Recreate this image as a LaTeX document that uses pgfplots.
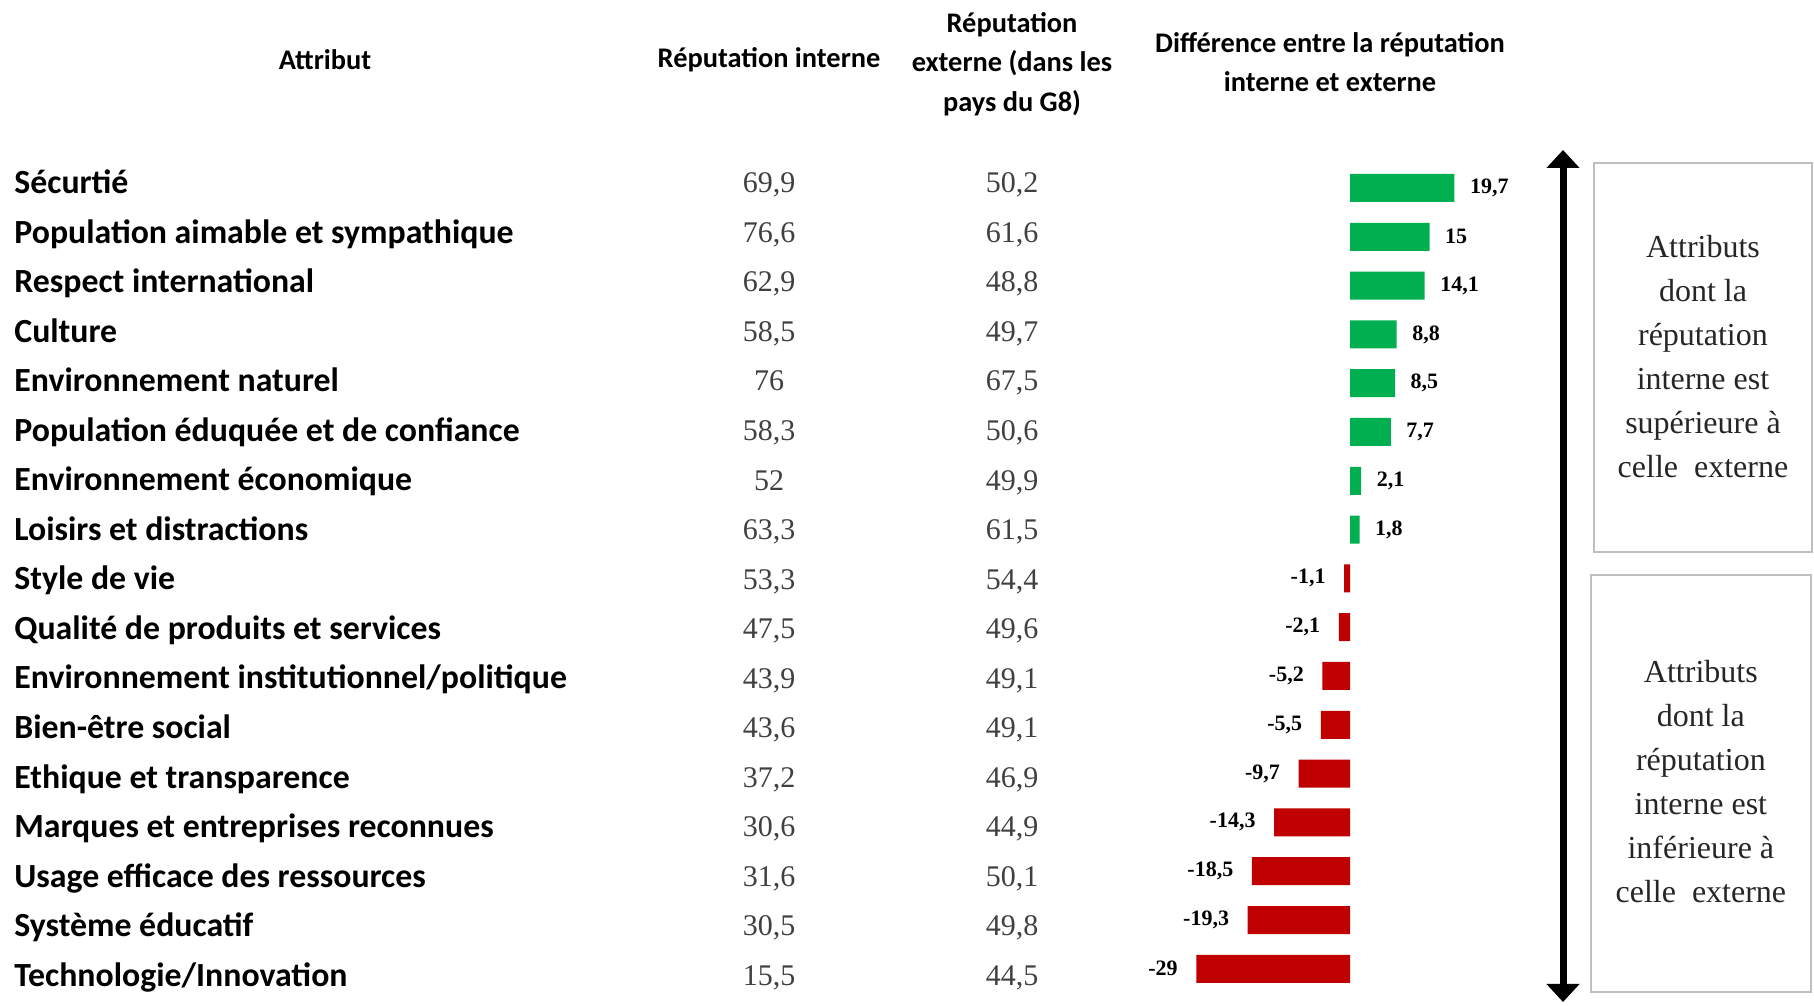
\documentclass[border=0pt]{standalone}
\usepackage{pgfplots}
\pgfplotsset{compat=1.18}
\usepackage{pgfplotstable}
\usetikzlibrary{arrows.meta}
\usepackage{fontspec}
\setmainfont{Liberation Serif}
\newfontfamily\calib{Carlito}
\definecolor{posgreen}{HTML}{00B050}
\definecolor{negred}{HTML}{C00000}
\definecolor{numgray}{HTML}{404040}

\pgfplotstableread[col sep=semicolon]{
row;label;int;ext;diff
0;Sécurtié;69.9;50.2;19.7
1;Population aimable et sympathique;76.6;61.6;15
2;Respect international;62.9;48.8;14.1
3;Culture;58.5;49.7;8.8
4;Environnement naturel;76;67.5;8.5
5;Population éduquée et de confiance;58.3;50.6;7.7
6;Environnement économique;52;49.9;2.1
7;Loisirs et distractions;63.3;61.5;1.8
8;Style de vie;53.3;54.4;-1.1
9;Qualité de produits et services;47.5;49.6;-2.1
10;Environnement institutionnel/politique;43.9;49.1;-5.2
11;Bien-être social;43.6;49.1;-5.5
12;Ethique et transparence;37.2;46.9;-9.7
13;Marques et entreprises reconnues;30.6;44.9;-14.3
14;Usage efficace des ressources;31.6;50.1;-18.5
15;Système éducatif;30.5;49.8;-19.3
16;Technologie/Innovation;15.5;44.5;-29
}\datatable

\begin{document}
\begin{tikzpicture}
\begin{axis}[
  scale only axis, width=907pt, height=502.5pt,
  xmin=-254.72, xmax=87.55, ymin=-3.852, ymax=16.742, y dir=reverse,
  hide axis, clip=false,
  /pgf/number format/use comma,
  /pgf/number format/assume math mode=true,
]
\path (rel axis cs:0,0) rectangle (rel axis cs:1,1);

% bars
\addplot[xbar, bar width=14pt, bar shift=0pt, fill=posgreen, draw=none,
  restrict x to domain=0:100,
  nodes near coords, point meta=x,
  nodes near coords style={anchor=west, xshift=4.3pt, text=black, font=\bfseries\fontsize{11}{12}\selectfont}]
  table[x=diff, y=row]{\datatable};
\addplot[xbar, bar width=14pt, bar shift=0pt, fill=negred, draw=none,
  restrict x to domain=-100:0,
  nodes near coords, point meta=x,
  nodes near coords style={anchor=east, xshift=-5.8pt, text=black, font=\bfseries\fontsize{11}{12}\selectfont}]
  table[x=diff, y=row]{\datatable};

% attribute labels
\addplot[draw=none, mark=none, nodes near coords, point meta=explicit symbolic,
  nodes near coords style={anchor=base west, inner sep=0pt, yshift=-5.4pt, text=black, font=\calib\bfseries\fontsize{16.9}{18}\selectfont}]
  table[x expr=-252.08, y expr=\thisrow{row}*1.01516-0.1066, meta=label]{\datatable};

% internal reputation
\addplot[draw=none, mark=none, nodes near coords, point meta=explicit,
  nodes near coords style={anchor=base, inner sep=0pt, yshift=-5pt, text=numgray, font=\fontsize{15}{16}\selectfont}]
  table[x expr=-109.62, y expr=\thisrow{row}*1.01516-0.1066, meta=int]{\datatable};

% external reputation
\addplot[draw=none, mark=none, nodes near coords, point meta=explicit,
  nodes near coords style={anchor=base, inner sep=0pt, yshift=-5pt, text=numgray, font=\fontsize{15}{16}\selectfont}]
  table[x expr=-63.77, y expr=\thisrow{row}*1.01516-0.1066, meta=ext]{\datatable};

% headers
\node[font=\calib\bfseries\fontsize{14.2}{19.7}\selectfont, align=center] at (axis cs:-193.4,-2.623) {Attribut};
\node[font=\calib\bfseries\fontsize{14.2}{19.7}\selectfont, align=center] at (axis cs:-109.62,-2.623) {Réputation interne};
\node[font=\calib\bfseries\fontsize{14.2}{19.7}\selectfont, align=center] at (axis cs:-63.77,-2.541) {Réputation\\externe (dans les\\pays du G8)};
\node[font=\calib\bfseries\fontsize{14.2}{19.7}\selectfont, align=center] at (axis cs:-3.77,-2.582) {Différence entre la réputation\\interne et externe};

% arrow
\draw[line width=3.5pt, {Triangle[width=16pt,length=9pt]}-{Triangle[width=16pt,length=9pt]}]
  (axis cs:40.19,-0.779) -- (axis cs:40.19,16.68);

% boxes
\draw[gray!50, line width=0.8pt] (axis cs:46.04,-0.512) rectangle (axis cs:87.17,7.459);
\node[align=center, text=black!85, font=\fontsize{16}{22}\selectfont] at (axis cs:66.6,3.463)
  {Attributs\\dont la\\réputation\\interne est\\supérieure à\\celle\ \ externe};
\draw[gray!50, line width=0.8pt] (axis cs:45.47,7.930) rectangle (axis cs:86.98,16.475);
\node[align=center, text=black!85, font=\fontsize{16}{22}\selectfont] at (axis cs:66.2,12.172)
  {Attributs\\dont la\\réputation\\interne est\\inférieure à\\celle\ \ externe};
\end{axis}
\end{tikzpicture}
\end{document}
